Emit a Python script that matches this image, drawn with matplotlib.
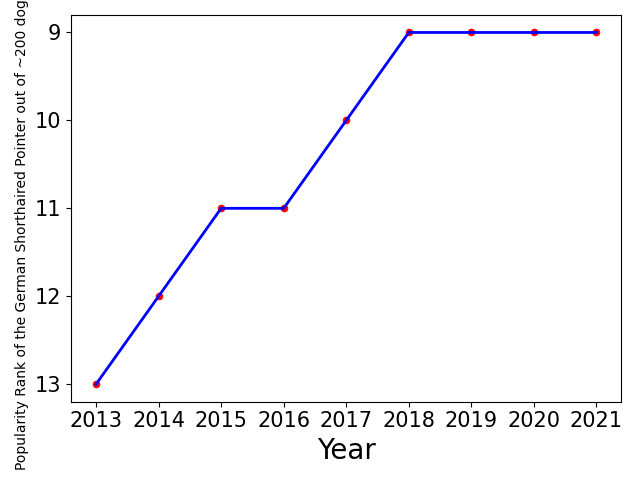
import matplotlib
matplotlib.use("Agg")
import matplotlib.pyplot as plt

# datos
years = [2013, 2014, 2015, 2016, 2017, 2018, 2019, 2020, 2021]
ranks = [13, 12, 11, 11, 10, 9, 9, 9, 9]

fig, ax = plt.subplots(figsize=(6.4, 4.8), dpi=100)
ax.scatter(years, ranks, color='red', s=20, zorder=2)
ax.plot(years, ranks, color='blue', linewidth=2, zorder=3)

ax.invert_yaxis()
ax.set_xticks(years)
ax.set_yticks([9, 10, 11, 12, 13])
ax.tick_params(axis='both', labelsize=15)
ax.set_xlabel('Year', fontsize=20)
ax.set_ylabel('Popularity Rank of the German Shorthaired Pointer out of ~200 dog breeds', fontsize=10)

fig.subplots_adjust(left=0.111, right=0.971, top=0.969, bottom=0.163)
fig.savefig('out.png', dpi=100)
